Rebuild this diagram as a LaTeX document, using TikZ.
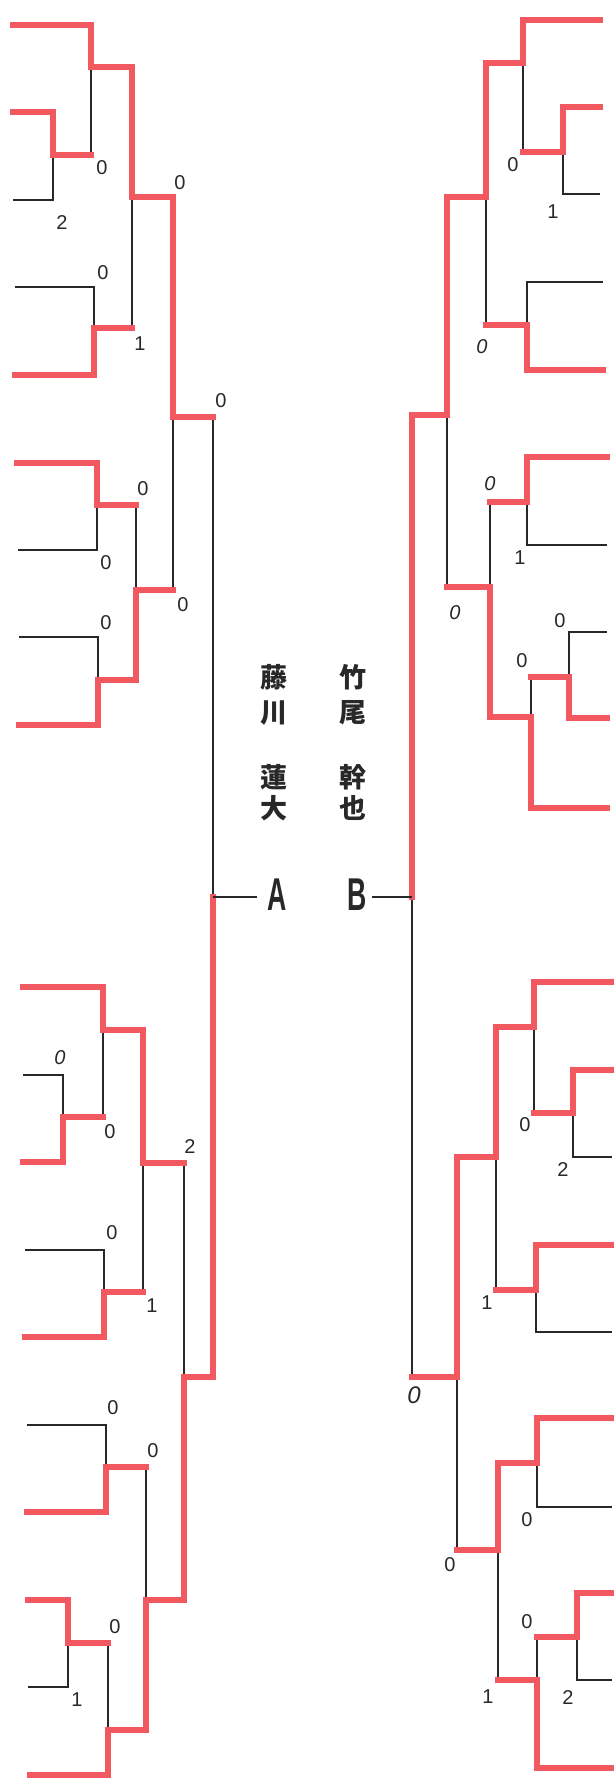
\documentclass[tikz,border=0pt]{standalone}
\usepackage{fontspec}
\setmainfont{Liberation Sans}
\newfontfamily\cjk{Noto Sans CJK JP}
\definecolor{bred}{RGB}{242,88,96}
\definecolor{ink}{RGB}{40,40,40}
\begin{document}
\begin{tikzpicture}[x=1pt,y=-1pt,
  win/.style={draw=bred,line width=6pt,line join=miter,line cap=rect},
  lose/.style={draw=ink,line width=1.8pt},
  sc/.style={inner sep=0pt,text=ink,font=\fontsize{20}{20}\selectfont},
  isc/.style={inner sep=0pt,text=ink,font=\fontsize{20}{20}\selectfont\itshape},
  nm/.style={inner sep=0pt,text=ink,font=\fontsize{27}{27}\selectfont\cjk\bfseries},
  ab/.style={inner sep=0pt,text=ink,font=\fontsize{46}{46}\selectfont\bfseries}]
\useasboundingbox (0,0) rectangle (613,1787);
\fill[white] (0,0) rectangle (613,1787);

% ---------- left half : losers (black) ----------
\draw[lose] (13,200) -| (53,155);
\draw[lose] (91,67) -- (91,155);
\draw[lose] (15,287) -| (94,328);
\draw[lose] (132,197) -- (132,328);
\draw[lose] (18,550) -| (97,505);
\draw[lose] (19,637) -| (98,680);
\draw[lose] (136,505) -- (136,590);
\draw[lose] (173,417) -- (173,590);
\draw[lose] (213,417) -- (213,897);
\draw[lose] (23,1075) -| (63,1117);
\draw[lose] (103,1030) -- (103,1117);
\draw[lose] (25,1250) -| (104,1292);
\draw[lose] (143,1163) -- (143,1292);
\draw[lose] (184,1163) -- (184,1377);
\draw[lose] (27,1425) -| (106,1467);
\draw[lose] (146,1467) -- (146,1600);
\draw[lose] (28,1687) -| (68,1643);
\draw[lose] (108,1643) -- (108,1730);

% ---------- right half : losers (black) ----------
\draw[lose] (523,63) -- (523,152);
\draw[lose] (600,194) -| (563,152);
\draw[lose] (603,282) -| (527,325);
\draw[lose] (486,197) -- (486,325);
\draw[lose] (607,545) -| (527,502);
\draw[lose] (607,632) -| (569,677);
\draw[lose] (531,677) -- (531,717);
\draw[lose] (490,502) -- (490,587);
\draw[lose] (447,415) -- (447,587);
\draw[lose] (412,897) -- (412,1377);
\draw[lose] (534,1027) -- (534,1113);
\draw[lose] (612,1157) -| (573,1113);
\draw[lose] (612,1332) -| (536,1290);
\draw[lose] (496,1157) -- (496,1290);
\draw[lose] (457,1377) -- (457,1550);
\draw[lose] (612,1507) -| (537,1463);
\draw[lose] (498,1550) -- (498,1680);
\draw[lose] (612,1680) -| (577,1637);
\draw[lose] (537,1637) -- (537,1680);

% ---------- left half : winners (red) ----------
\draw[win] (13,25) -| (91,67) -| (132,197) -| (173,417) -- (213,417);
\draw[win] (13,112) -| (53,155) -- (91,155);
\draw[win] (15,375) -| (94,328) -- (132,328);
\draw[win] (17,463) -| (97,505) -- (136,505);
\draw[win] (19,725) -| (98,680) -| (136,590) -- (173,590);
\draw[win] (23,987) -| (103,1030) -| (143,1163) -- (184,1163);
\draw[win] (23,1162) -| (63,1117) -- (103,1117);
\draw[win] (25,1337) -| (104,1292) -- (143,1292);
\draw[win] (27,1512) -| (106,1467) -- (146,1467);
\draw[win] (28,1600) -| (68,1643) -- (108,1643);
\draw[win] (30,1775) -| (108,1730) -| (146,1600) -| (184,1377) -| (213,897);

% ---------- right half : winners (red) ----------
\draw[win] (600,20) -| (523,63) -| (486,197) -| (447,415) -| (412,897);
\draw[win] (600,107) -| (563,152) -- (523,152);
\draw[win] (603,370) -| (527,325) -- (486,325);
\draw[win] (607,457) -| (527,502) -- (490,502);
\draw[win] (607,718) -| (569,677) -- (531,677);
\draw[win] (607,808) -| (531,717) -| (490,587) -- (447,587);
\draw[win] (612,982) -| (534,1027) -| (496,1157) -| (457,1377) -- (412,1377);
\draw[win] (612,1070) -| (573,1113) -- (534,1113);
\draw[win] (612,1245) -| (536,1290) -- (496,1290);
\draw[win] (612,1418) -| (537,1463) -| (498,1550) -- (457,1550);
\draw[win] (612,1593) -| (577,1637) -- (537,1637);
\draw[win] (612,1768) -| (537,1680) -- (498,1680);

% ---------- finalists ----------
\coordinate (jA) at (213,897);
\coordinate (jB) at (412,897);
\node[ab] (A) at (277,895) {\scalebox{0.58}[1]{A}};
\node[ab] (B) at (357,895) {\scalebox{0.58}[1]{B}};
\draw[lose] (jA) -- ([xshift=-10pt]A.west |- jA);
\draw[lose] (jB) -- ([xshift=5pt]B.east |- jB);

\node[nm] (f1) at (274,677) {藤};
\node[nm] (f2) at (274,713) {川};
\node[nm] (f3) at (274,777) {蓮};
\node[nm] (f4) at (274,808) {大};
\node[nm] (t1) at (353,677) {竹};
\node[nm] (t2) at (353,713) {尾};
\node[nm] (t3) at (353,777) {幹};
\node[nm] (t4) at (353,808) {也};

% ---------- scores : left ----------
\node[sc] (s1) at (102,168) {0};
\node[sc] (s2) at (62,223) {2};
\node[sc] (s3) at (180,183) {0};
\node[sc] (s4) at (103,273) {0};
\node[sc] (s5) at (140,344) {1};
\node[sc] (s6) at (221,401) {0};
\node[sc] (s7) at (143,489) {0};
\node[sc] (s8) at (106,563) {0};
\node[sc] (s9) at (106,623) {0};
\node[sc] (s10) at (183,605) {0};
\node[isc] (s11) at (60,1058) {0};
\node[sc] (s12) at (110,1132) {0};
\node[sc] (s13) at (190,1147) {2};
\node[sc] (s14) at (112,1233) {0};
\node[sc] (s15) at (152,1306) {1};
\node[sc] (s16) at (113,1408) {0};
\node[sc] (s17) at (153,1451) {0};
\node[sc] (s18) at (115,1627) {0};
\node[sc] (s19) at (77,1700) {1};

% ---------- scores : right ----------
\node[sc] (r1) at (513,165) {0};
\node[sc] (r2) at (553,212) {1};
\node[isc] (r3) at (482,347) {0};
\node[isc] (r4) at (490,484) {0};
\node[sc] (r5) at (520,558) {1};
\node[isc] (r6) at (455,613) {0};
\node[sc] (r7) at (560,621) {0};
\node[sc] (r8) at (522,661) {0};
\node[sc] (r9) at (525,1125) {0};
\node[sc] (r10) at (563,1170) {2};
\node[sc] (r11) at (487,1303) {1};
\node[isc,font=\fontsize{24}{24}\selectfont\itshape] (r12) at (414,1395) {0};
\node[sc] (r13) at (527,1520) {0};
\node[sc] (r14) at (450,1565) {0};
\node[sc] (r15) at (527,1622) {0};
\node[sc] (r16) at (568,1697) {2};
\node[sc] (r17) at (488,1697) {1};
\end{tikzpicture}
\end{document}
